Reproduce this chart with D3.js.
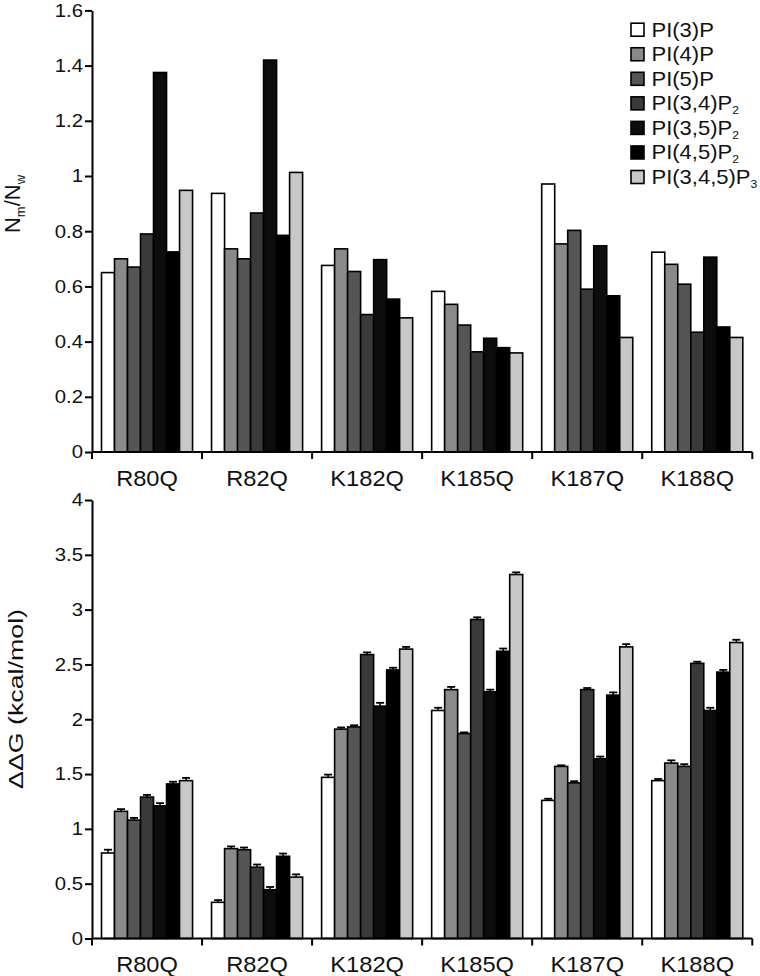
<!DOCTYPE html>
<html>
<head>
<meta charset="utf-8">
<script src="https://cdn.jsdelivr.net/npm/d3@7/dist/d3.min.js"></script>
<style>
  html, body { margin: 0; padding: 0; background: #fff; }
  svg { display: block; font-family: "Liberation Sans", Arial, sans-serif; }
  .tick text { transform: scaleX(1.1); transform-box: fill-box; transform-origin: right center; }
  .cat { transform-box: fill-box; transform-origin: center; transform: scaleX(1.1); }
  .leg { transform-box: fill-box; transform-origin: left center; transform: scaleX(1.1); }
</style>
</head>
<body>
<svg id="chart" width="760" height="976"></svg>
<script>
// ---------- data ----------
const categories = ["R80Q", "R82Q", "K182Q", "K185Q", "K187Q", "K188Q"];
const seriesNames = ["PI(3)P", "PI(4)P", "PI(5)P", "PI(3,4)P2", "PI(3,5)P2", "PI(4,5)P2", "PI(3,4,5)P3"];
const seriesBase = ["PI(3)P", "PI(4)P", "PI(5)P", "PI(3,4)P", "PI(3,5)P", "PI(4,5)P", "PI(3,4,5)P"];
const seriesSub = ["", "", "", "2", "2", "2", "3"];

// Nm/Nw (top panel), one row per category, columns follow seriesNames
const ratioR80Q  = [0.65, 0.70, 0.67, 0.79, 1.375, 0.725, 0.948];
const ratioR82Q  = [0.937, 0.736, 0.70, 0.866, 1.42, 0.785, 1.013];
const ratioK182Q = [0.676, 0.736, 0.654, 0.498, 0.697, 0.554, 0.486];
const ratioK185Q = [0.582, 0.535, 0.46, 0.363, 0.412, 0.378, 0.359];
const ratioK187Q = [0.971, 0.754, 0.803, 0.59, 0.747, 0.566, 0.415];
const ratioK188Q = [0.724, 0.68, 0.608, 0.434, 0.706, 0.453, 0.415];

// ddG (bottom panel)
const ddgR80Q  = [0.78, 1.16, 1.08, 1.29, 1.21, 1.41, 1.44];
const ddgR82Q  = [0.33, 0.82, 0.81, 0.65, 0.445, 0.75, 0.56];
const ddgK182Q = [1.47, 1.91, 1.93, 2.59, 2.12, 2.45, 2.64];
const ddgK185Q = [2.08, 2.27, 1.87, 2.91, 2.25, 2.62, 3.32];
const ddgK187Q = [1.26, 1.57, 1.42, 2.27, 1.64, 2.22, 2.66];
const ddgK188Q = [1.44, 1.60, 1.57, 2.51, 2.08, 2.43, 2.70];

const errR80Q  = [0.03, 0.02, 0.02, 0.02, 0.025, 0.02, 0.025];
const errR82Q  = [0.02, 0.02, 0.02, 0.025, 0.025, 0.025, 0.025];
const errK182Q = [0.025, 0.015, 0.015, 0.02, 0.03, 0.02, 0.02];
const errK185Q = [0.025, 0.025, 0.01, 0.02, 0.02, 0.025, 0.02];
const errK187Q = [0.015, 0.01, 0.015, 0.015, 0.02, 0.025, 0.025];
const errK188Q = [0.015, 0.025, 0.02, 0.015, 0.025, 0.02, 0.025];

const ratioTicks = [0, 0.2, 0.4, 0.6, 0.8, 1, 1.2, 1.4, 1.6];
const ddgTicks = [0, 0.5, 1, 1.5, 2, 2.5, 3, 3.5, 4];

const seriesColors = ["#ffffff", "#8a8a8a", "#555555", "#3a3a3a", "#0d0d0d", "#000000", "#c8c8c8"];

const ratioRows = [ratioR80Q, ratioR82Q, ratioK182Q, ratioK185Q, ratioK187Q, ratioK188Q];
const ddgRows = [ddgR80Q, ddgR82Q, ddgK182Q, ddgK185Q, ddgK187Q, ddgK188Q];
const errRows = [errR80Q, errR82Q, errK182Q, errK185Q, errK187Q, errK188Q];

// ---------- layout ----------
const svg = d3.select("#chart");
const xLeft = 92, xRight = 752.3;
const x = d3.scaleBand().domain(categories).range([xLeft, xRight]).paddingInner(0).paddingOuter(0);
const xs = d3.scaleBand().domain(seriesNames).range([9.5, x.bandwidth() - 9.5]).padding(0);

function panel(opts) {
  const { y, ticks, rows, errs, fmt } = opts;
  const g = svg.append("g");

  categories.forEach((c, ci) => {
    const gg = g.append("g").attr("transform", `translate(${x(c)},0)`);
    const data = seriesNames.map((s, si) => ({ s, si, v: rows[ci][si], e: errs ? errs[ci][si] : 0 }));
    gg.selectAll("rect").data(data).join("rect")
      .attr("x", d => xs(d.s))
      .attr("y", d => y(d.v))
      .attr("width", xs.bandwidth())
      .attr("height", d => y(0) - y(d.v))
      .attr("fill", d => seriesColors[d.si])
      .attr("stroke", "#000")
      .attr("stroke-width", 1.6);
    if (errs) {
      const eb = gg.selectAll("g.err").data(data).join("g").attr("class", "err");
      eb.append("line")
        .attr("x1", d => xs(d.s) + xs.bandwidth() / 2)
        .attr("x2", d => xs(d.s) + xs.bandwidth() / 2)
        .attr("y1", d => y(d.v))
        .attr("y2", d => y(d.v + d.e))
        .attr("stroke", "#000").attr("stroke-width", 1.5);
      eb.append("line")
        .attr("x1", d => xs(d.s) + xs.bandwidth() / 2 - 4)
        .attr("x2", d => xs(d.s) + xs.bandwidth() / 2 + 4)
        .attr("y1", d => y(d.v + d.e))
        .attr("y2", d => y(d.v + d.e))
        .attr("stroke", "#000").attr("stroke-width", 1.8);
    }
  });

  const ya = g.append("g").attr("transform", `translate(${xLeft},0)`)
    .call(d3.axisLeft(y).tickValues(ticks).tickFormat(fmt).tickSize(7).tickSizeOuter(0).tickPadding(2));
  ya.select(".domain").attr("stroke-width", 2);
  ya.selectAll(".tick line").attr("stroke-width", 2);
  ya.selectAll(".tick text").attr("font-size", 18.5).attr("fill", "#111");

  const y0 = y(0);
  const boundaries = categories.map(c => x(c)).concat([xRight]);
  g.append("line").attr("x1", xLeft).attr("x2", xRight).attr("y1", y0).attr("y2", y0)
    .attr("stroke", "#000").attr("stroke-width", 2);
  g.selectAll("line.xt").data(boundaries).join("line").attr("class", "xt")
    .attr("x1", d => d).attr("x2", d => d).attr("y1", y0).attr("y2", y0 + 7)
    .attr("stroke", "#000").attr("stroke-width", 2);
  g.selectAll("text.cat").data(categories).join("text").attr("class", "cat")
    .attr("x", d => x(d) + x.bandwidth() / 2)
    .attr("y", y0 + 34)
    .attr("text-anchor", "middle")
    .attr("font-size", 21.5)
    .attr("fill", "#111")
    .text(d => d);
  return g;
}

const yTop = d3.scaleLinear().domain([0, 1.6]).range([452, 10.4]);
const yBot = d3.scaleLinear().domain([0, 4]).range([938.5, 500]);

panel({ y: yTop, ticks: ratioTicks, rows: ratioRows, errs: null, fmt: d => String(d) });
panel({ y: yBot, ticks: ddgTicks, rows: ddgRows, errs: errRows, fmt: d => String(d) });

// y labels
const t1 = svg.append("text")
  .attr("transform", "translate(20,204) rotate(-90)")
  .attr("text-anchor", "middle")
  .attr("font-size", 22)
  .attr("fill", "#111");
t1.append("tspan").text("N");
t1.append("tspan").attr("font-size", 13).attr("dy", 5).text("m");
t1.append("tspan").attr("dy", -5).text("/N");
t1.append("tspan").attr("font-size", 13).attr("dy", 5).text("w");

svg.append("text")
  .attr("transform", "translate(23,699) rotate(-90)")
  .attr("text-anchor", "middle")
  .attr("font-size", 21)
  .attr("fill", "#111")
  .attr("textLength", 180)
  .attr("lengthAdjust", "spacingAndGlyphs")
  .text("ΔΔG (kcal/mol)");

// legend
const leg = svg.append("g");
const legY = d3.scalePoint().domain(seriesNames).range([29.7, 177]);
seriesNames.forEach((s, i) => {
  const cy = legY(s);
  leg.append("rect").attr("x", 631).attr("y", cy - 6.5).attr("width", 13).attr("height", 13)
    .attr("fill", seriesColors[i]).attr("stroke", "#000").attr("stroke-width", 1.6);
  const t = leg.append("text").attr("class", "leg").attr("x", 651.5).attr("y", cy + 7)
    .attr("font-size", 20).attr("fill", "#111");
  t.append("tspan").text(seriesBase[i]);
  if (seriesSub[i]) t.append("tspan").attr("font-size", 11).attr("dy", 4).text(seriesSub[i]);
});
</script>
</body>
</html>
